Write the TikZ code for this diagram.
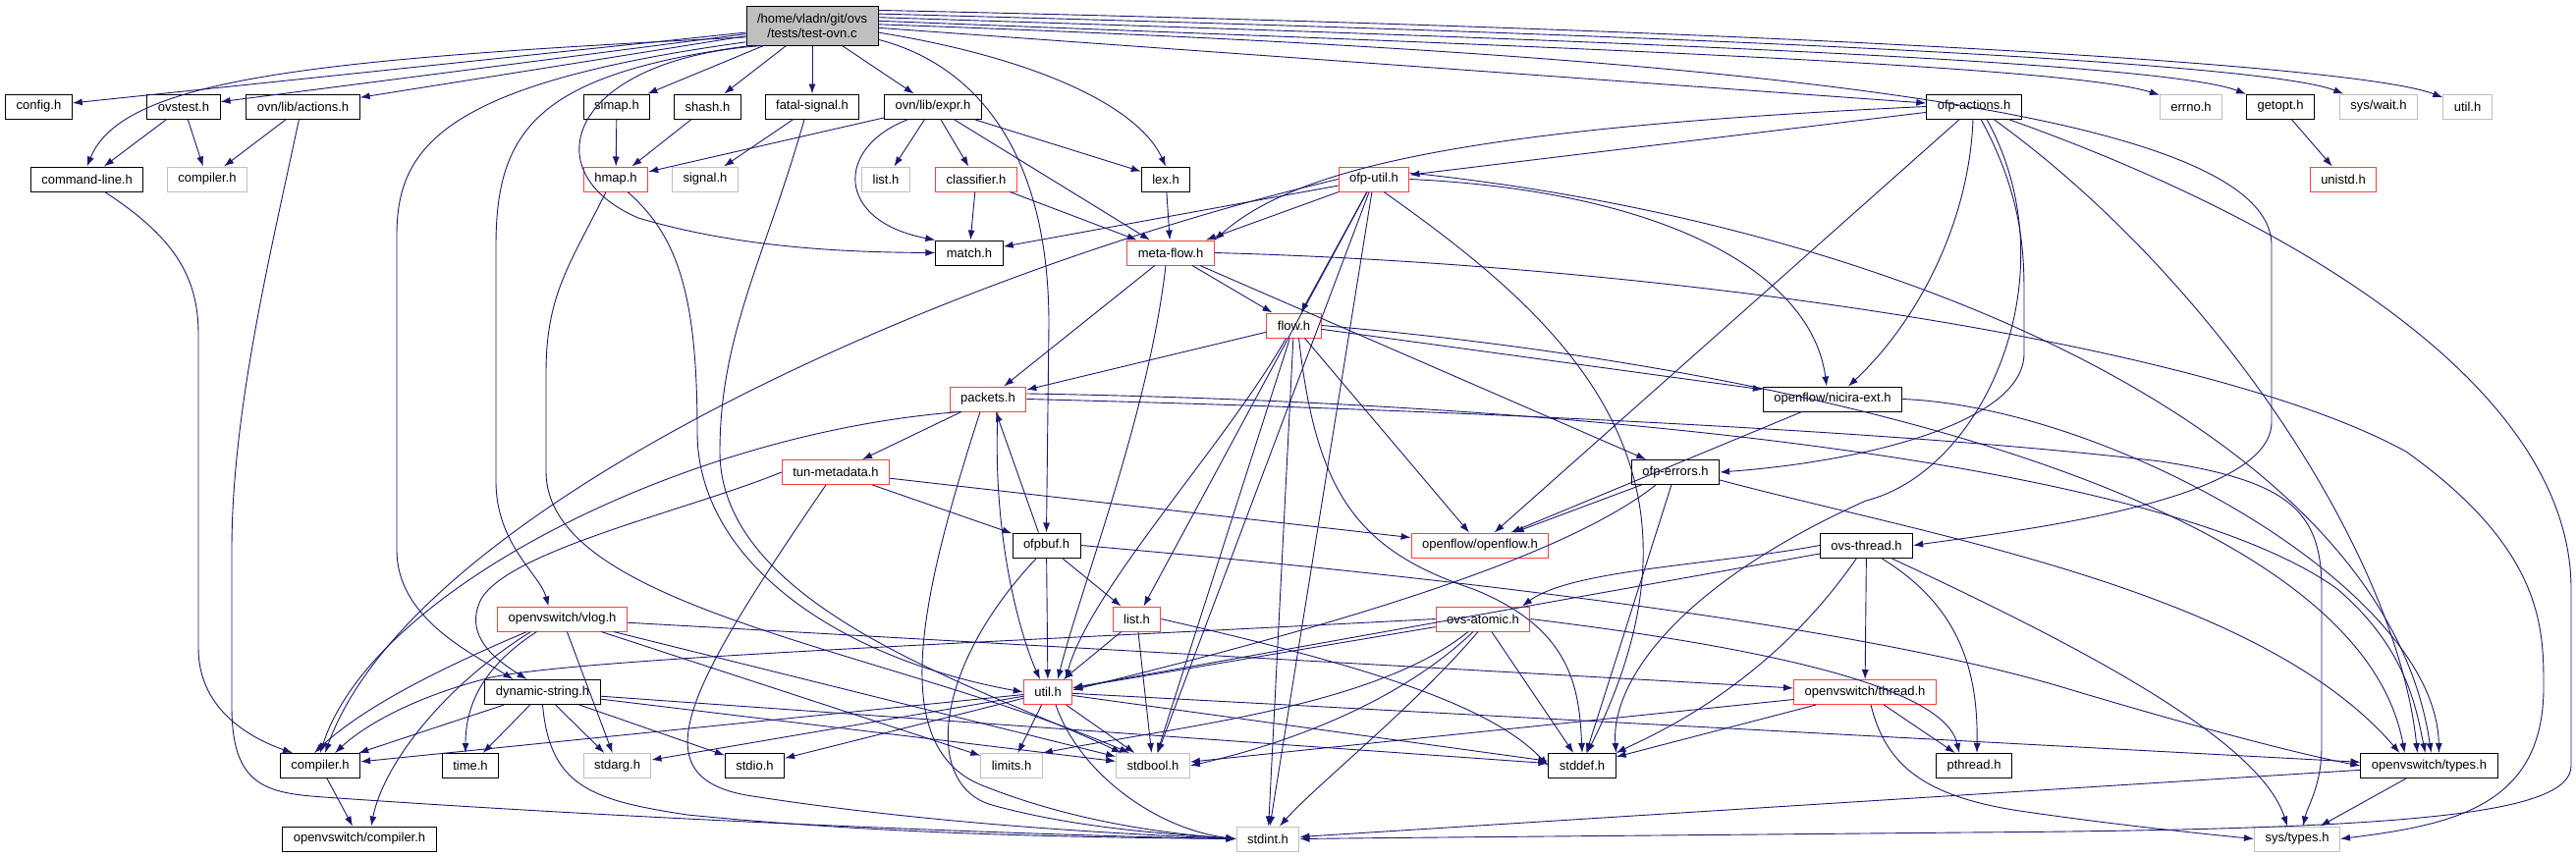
\documentclass[tikz,border=0pt]{standalone}
\usepackage{fontspec}
\setmainfont{Liberation Sans}
\usepackage{xcolor}
\usepackage{tikz}
\usetikzlibrary{arrows.meta}

\definecolor{depblue}{RGB}{25,25,112}
\definecolor{trunc}{RGB}{255,64,64}
\definecolor{sysgray}{RGB}{191,191,191}
\newcommand{\hdrfont}{\fontsize{13}{15}\selectfont}

\tikzset{
  hdr/.style={draw=black, fill=white, line width=1pt, minimum height=25pt,
    inner xsep=11pt, inner ysep=0pt, font=\hdrfont},
  hdrtrunc/.style={hdr, draw=trunc},
  hdrsys/.style={hdr, draw=sysgray},
  hdrroot/.style={hdr, fill=sysgray, minimum height=40pt, align=center},
  dep/.style={draw=depblue, line width=0.9pt, -{Latex[length=10pt,width=7pt]}}
}

\begin{document}
\begin{tikzpicture}[x=1pt, y=-1pt]
  \useasboundingbox (0,0) rectangle (2623,873);
  % the file itself
  \node[hdrroot] (main) at (827,26) {/home/vladn/git/ovs\\/tests/test-ovn.c};
  % rank 1
  \node[hdr] (config) at (39.5,108.5) {config.h};
  \node[hdr] (ovstest) at (187,108.5) {ovstest.h};
  \node[hdr] (actions) at (308.5,108.5) {ovn/lib/actions.h};
  \node[hdr] (simap) at (628,108.5) {simap.h};
  \node[hdr] (shash) at (720.5,108.5) {shash.h};
  \node[hdr] (fatalsig) at (827,108.5) {fatal-signal.h};
  \node[hdr] (expr) at (950,108.5) {ovn/lib/expr.h};
  \node[hdr] (ofpactions) at (2010,108.5) {ofp-actions.h};
  \node[hdrsys] (errno) at (2231,108.5) {errno.h};
  \node[hdr] (getopt) at (2322,108.5) {getopt.h};
  \node[hdrsys] (syswait) at (2422,108.5) {sys/wait.h};
  \node[hdrsys] (utilsys) at (2512.5,108.5) {util.h};
  % rank 2
  \node[hdr] (cmdline) at (88.6,182.5) {command-line.h};
  \node[hdrsys] (compilergray) at (211,182.5) {compiler.h};
  \node[hdrtrunc] (hmap) at (627,182.5) {hmap.h};
  \node[hdrsys] (signal) at (718,182.5) {signal.h};
  \node[hdrsys] (listgray) at (902,182.5) {list.h};
  \node[hdrtrunc] (classifier) at (994,182.5) {classifier.h};
  \node[hdr] (lex) at (1187,182.5) {lex.h};
  \node[hdrtrunc] (ofputil) at (1399,182.5) {ofp-util.h};
  \node[hdrtrunc] (unistd) at (2386,182.5) {unistd.h};
  % rank 3 .. 9
  \node[hdr] (match) at (987,257.5) {match.h};
  \node[hdrtrunc] (metaflow) at (1192,257.5) {meta-flow.h};
  \node[hdrtrunc] (flow) at (1317.5,331.5) {flow.h};
  \node[hdrtrunc] (packets) at (1006,406.5) {packets.h};
  \node[hdr] (nicira) at (1866,406.5) {openflow/nicira-ext.h};
  \node[hdrtrunc] (tunmeta) at (851,481) {tun-metadata.h};
  \node[hdr] (ofperrors) at (1706,481) {ofp-errors.h};
  \node[hdr] (ofpbuf) at (1065.5,555.5) {ofpbuf.h};
  \node[hdrtrunc] (openflow) at (1507,555.5) {openflow/openflow.h};
  \node[hdr] (ovsthread) at (1900.5,555.5) {ovs-thread.h};
  \node[hdrtrunc] (vlog) at (572.5,630.5) {openvswitch/vlog.h};
  \node[hdrtrunc] (listred) at (1157.5,630.5) {list.h};
  \node[hdrtrunc] (atomic) at (1510,630.5) {ovs-atomic.h};
  \node[hdr] (dynstr) at (552.5,705) {dynamic-string.h};
  \node[hdrtrunc] (util) at (1067,705) {util.h};
  \node[hdrtrunc] (thread) at (1899,705) {openvswitch/thread.h};
  % system headers row
  \node[hdr] (compiler) at (326,780) {compiler.h};
  \node[hdr] (time) at (479,780) {time.h};
  \node[hdrsys] (stdarg) at (628.5,780) {stdarg.h};
  \node[hdr] (stdio) at (768.5,780) {stdio.h};
  \node[hdrsys] (limits) at (1030,780) {limits.h};
  \node[hdrsys] (stdbool) at (1174,780) {stdbool.h};
  \node[hdr] (stddef) at (1611,780) {stddef.h};
  \node[hdr] (pthread) at (2010,780) {pthread.h};
  \node[hdr] (ovstypes) at (2473.5,780) {openvswitch/types.h};
  \node[hdr] (ovscompiler) at (366,854.5) {openvswitch/compiler.h};
  \node[hdrsys] (stdint) at (1291,854.5) {stdint.h};
  \node[hdrsys] (systypes) at (2339,854.5) {sys/types.h};

  % includes of test-ovn.c
  \draw[dep] (main) -- (config);
  \draw[dep] (main.190) .. controls (320,60) and (125,80) .. (cmdline.north);
  \draw[dep] (main) -- (ovstest);
  \draw[dep] (main) -- (actions);
  \draw[dep] (main) -- (simap);
  \draw[dep] (main) -- (shash);
  \draw[dep] (main) -- (fatalsig);
  \draw[dep] (main) -- (expr);
  \draw[dep] (main.194) .. controls (450,85) and (404,150) .. (404,240) -- (404,560) .. controls (404,630) and (480,665) .. ([xshift=-30pt]dynstr.north);
  \draw[dep] (main.198) .. controls (550,75) and (505,130) .. (505,250) -- (505,490) .. controls (505,555) and (550,585) .. ([xshift=-14pt]vlog.north);
  \draw[dep] (main.202) .. controls (580,60) and (540,175) .. (650,222) .. controls (760,255) and (880,257) .. (match.west);
  \draw[dep] (main.-6) .. controls (1060,60) and (1160,110) .. (lex.north);
  \draw[dep] (main.-12) .. controls (990,65) and (1068,150) .. (1068,330) -- (ofpbuf.north);
  \draw[dep] (main.-2) -- (ofpactions);
  \draw[dep] (main.4) .. controls (1500,45) and (2100,65) .. (errno.160);
  \draw[dep] (main.7) .. controls (1600,40) and (2200,62) .. (getopt.160);
  \draw[dep] (main.10) .. controls (1700,35) and (2300,62) .. (syswait.160);
  \draw[dep] (main.13) .. controls (1800,30) and (2400,65) .. (utilsys.160);
  \draw[dep] (main.1) .. controls (1750,55) and (2313,110) .. (2313,250) -- (2313,430) .. controls (2313,510) and (2060,540) .. (ovsthread.east);

  % ovstest.h, ovn/lib/actions.h, command-line.h
  \draw[dep] (ovstest) -- (cmdline);
  \draw[dep] (ovstest) -- (compilergray);
  \draw[dep] (actions) -- (compilergray);
  \draw[dep] ([xshift=-4pt]actions.south) .. controls (275,260) and (236,420) .. (236,560) -- (236,720) .. controls (236,800) and (270,808) .. (330,812) .. controls (700,838) and (1100,852) .. (stdint.west);
  \draw[dep] ([xshift=18pt]cmdline.south) .. controls (175,240) and (202,280) .. (202,340) -- (202,660) .. controls (202,720) and (250,750) .. ([xshift=-28pt]compiler.north);

  % hmap.h and fatal-signal.h
  \draw[dep] (simap) -- (hmap);
  \draw[dep] (shash) -- (hmap);
  \draw[dep] (expr) -- (hmap);
  \draw[dep] ([xshift=12pt]hmap.south) .. controls (690,240) and (710,300) .. (710,440) .. controls (710,570) and (850,670) .. (util.west);
  \draw[dep] ([xshift=-10pt]hmap.south) .. controls (580,270) and (556,300) .. (556,380) -- (556,480) .. controls (556,620) and (900,660) .. ([xshift=-24pt]stdbool.north);
  \draw[dep] (fatalsig) -- (signal);
  \draw[dep] ([xshift=-8pt]fatalsig.south) .. controls (780,260) and (733,340) .. (733,460) .. controls (733,620) and (1000,700) .. ([xshift=-32pt]stdbool.north);

  % ovn/lib/expr.h, classifier.h, lex.h, getopt.h
  \draw[dep] (expr) -- (listgray);
  \draw[dep] (expr) -- (classifier);
  \draw[dep] ([xshift=-25pt]expr.south) .. controls (850,150) and (850,225) .. (match.north west);
  \draw[dep] (expr) -- (metaflow);
  \draw[dep] (expr) -- (lex);
  \draw[dep] (classifier) -- (match);
  \draw[dep] (classifier) -- (metaflow);
  \draw[dep] (lex) -- (metaflow);
  \draw[dep] (getopt) -- (unistd);

  % ofp-actions.h
  \draw[dep] (ofpactions) -- (ofputil);
  \draw[dep] (ofpactions.west) .. controls (1500,130) and (1320,170) .. (metaflow.north east);
  \draw[dep] (ofpactions) -- (openflow);
  \draw[dep] ([xshift=-1pt]ofpactions.south) .. controls (2005,230) and (1950,330) .. ([xshift=16pt]nicira.north);
  \draw[dep] ([xshift=7pt]ofpactions.south) .. controls (2060,200) and (2061,260) .. (2061,300) -- (2061,360) .. controls (2061,430) and (1900,470) .. (ofperrors.east);
  \draw[dep] ([xshift=13pt]ofpactions.south) .. controls (2110,280) and (2020,480) .. (1900,510) .. controls (1700,600) and (1640,700) .. (stddef.north east);
  \draw[dep] ([xshift=20pt]ofpactions.south) .. controls (2250,280) and (2440,560) .. ([xshift=-12pt]ovstypes.north);
  \draw[dep] ([xshift=35pt]ofpactions.south) .. controls (2350,230) and (2618,400) .. (2618,600) -- (2618,780) .. controls (2618,830) and (2450,845) .. (2000,848) .. controls (1700,851) and (1450,853) .. (stdint.east);

  % ofp-util.h
  \draw[dep] (ofputil) -- (match);
  \draw[dep] (ofputil) -- (metaflow);
  \draw[dep] (ofputil) -- (flow);
  \draw[dep] (ofputil) -- (listred);
  \draw[dep] (ofputil) -- (stdbool);
  \draw[dep] (ofputil) -- (stdint);
  \draw[dep] (ofputil.west) .. controls (950,280) and (420,520) .. ([xshift=5pt]compiler.north);
  \draw[dep] (ofputil.east) .. controls (1700,195) and (1845,280) .. ([xshift=-6pt]nicira.north);
  \draw[dep] ([xshift=10pt]ofputil.south) .. controls (1600,330) and (1760,480) .. ([xshift=5pt]stddef.north);
  \draw[dep] (ofputil.10) .. controls (1950,230) and (2430,450) .. ([xshift=2pt]ovstypes.north);

  % meta-flow.h and flow.h
  \draw[dep] (metaflow) -- (flow);
  \draw[dep] (metaflow) -- (packets);
  \draw[dep] ([xshift=-5pt]metaflow.south) .. controls (1170,420) and (1100,600) .. ([xshift=10pt]util.north);
  \draw[dep] (metaflow) -- (ofperrors);
  \draw[dep] (metaflow.east) .. controls (1700,270) and (2250,350) .. (2450,460) .. controls (2590,560) and (2590,640) .. (2590,700) .. controls (2590,820) and (2500,840) .. (systypes.east);
  \draw[dep] (flow) -- (packets);
  \draw[dep] (flow) -- (nicira);
  \draw[dep] (flow) -- (openflow);
  \draw[dep] ([xshift=-8pt]flow.south) .. controls (1250,450) and (1110,600) .. ([xshift=18pt]util.north);
  \draw[dep] (flow) -- (stdbool);
  \draw[dep] (flow) -- (stdint);
  \draw[dep] ([xshift=5pt]flow.south) .. controls (1340,500) and (1380,560) .. (1500,600) .. controls (1600,640) and (1608,700) .. (stddef.north);
  \draw[dep] (flow.east) .. controls (1800,370) and (2400,500) .. ([xshift=-25pt]ovstypes.north);

  % packets.h, ofpbuf.h, tun-metadata.h
  \draw[dep] (packets) -- (tunmeta);
  \draw[dep] ([xshift=-28pt]packets.south) .. controls (700,440) and (380,600) .. (compiler.north);
  \draw[dep] ([xshift=10pt]packets.south) .. controls (1010,550) and (1040,650) .. ([xshift=-8pt]util.north);
  \draw[dep] ([xshift=-8pt]packets.south) .. controls (940,600) and (900,760) .. (1000,800) .. controls (1100,840) and (1200,850) .. (stdint.west);
  \draw[dep] (packets.east) .. controls (1500,418) and (1950,440) .. (2200,470) .. controls (2330,490) and (2364,520) .. (2364,600) -- (2364,760) .. controls (2364,800) and (2350,820) .. ([xshift=6pt]systypes.north);
  \draw[dep] (packets.8) .. controls (1600,410) and (2200,470) .. (2380,600) .. controls (2450,660) and (2460,720) .. ([xshift=-4pt]ovstypes.north);
  \draw[dep] ([xshift=-8pt]ofpbuf.north) -- ([xshift=8pt]packets.south);
  \draw[dep] (ofpbuf) -- (util);
  \draw[dep] (ofpbuf) -- (listred);
  \draw[dep] ([xshift=-10pt]ofpbuf.south) .. controls (950,680) and (940,800) .. (1010,820) .. controls (1100,845) and (1200,850) .. (stdint.west);
  \draw[dep] (ofpbuf.east) .. controls (1500,590) and (1900,640) .. (2100,700) .. controls (2250,745) and (2350,770) .. (ovstypes.west);
  \draw[dep] (tunmeta) -- (ofpbuf);
  \draw[dep] (tunmeta) -- (openflow);
  \draw[dep] (tunmeta.west) .. controls (700,520) and (520,560) .. (490,610) .. controls (470,650) and (510,675) .. ([xshift=-16pt]dynstr.north);
  \draw[dep] ([xshift=-10pt]tunmeta.south) .. controls (700,700) and (650,790) .. (760,810) .. controls (950,840) and (1150,850) .. (stdint.west);

  % list.h, util.h, dynamic-string.h
  \draw[dep] (listred) -- (util);
  \draw[dep] (listred) -- (stdbool);
  \draw[dep] (listred.east) .. controls (1400,680) and (1520,720) .. (stddef.west);
  \draw[dep] (util) -- (compiler);
  \draw[dep] (util) -- (stdarg);
  \draw[dep] (util) -- (stdio);
  \draw[dep] (util) -- (limits);
  \draw[dep] (util) -- (stdbool);
  \draw[dep] (util) -- (stddef);
  \draw[dep] ([xshift=8pt]util.south) .. controls (1100,790) and (1180,845) .. (stdint.west);
  \draw[dep] (util) -- (ovstypes);
  \draw[dep] (dynstr) -- (compiler);
  \draw[dep] (dynstr) -- (time);
  \draw[dep] (dynstr) -- (stdarg);
  \draw[dep] (dynstr) -- (stdio);
  \draw[dep] (dynstr) -- (stdbool);
  \draw[dep] (dynstr) -- (stddef);
  \draw[dep] (dynstr.south) .. controls (560,800) and (600,815) .. (700,830) .. controls (900,850) and (1100,853) .. (stdint.west);

  % openvswitch/vlog.h, compiler.h
  \draw[dep] ([xshift=-36pt]vlog.south) .. controls (450,680) and (370,720) .. ([xshift=-6pt]compiler.north);
  \draw[dep] ([xshift=-32pt]vlog.south) .. controls (450,700) and (390,780) .. ([xshift=12pt]ovscompiler.north);
  \draw[dep] ([xshift=-26pt]vlog.south) .. controls (490,680) and (474,720) .. ([xshift=-5pt]time.north);
  \draw[dep] (vlog) -- (stdarg);
  \draw[dep] (vlog) -- (limits);
  \draw[dep] (vlog) -- (stdbool);
  \draw[dep] (vlog) -- (thread);
  \draw[dep] (compiler) -- (ovscompiler);

  % ofp-errors.h, nicira-ext.h
  \draw[dep] (ofperrors) -- (openflow);
  \draw[dep] (ofperrors) -- (stddef);
  \draw[dep] ([xshift=-20pt]ofperrors.south) .. controls (1590,570) and (1350,640) .. (util.5);
  \draw[dep] (ofperrors.-10) .. controls (1960,545) and (2300,600) .. ([xshift=-30pt]ovstypes.north);
  \draw[dep] (nicira) -- (openflow);
  \draw[dep] (nicira.east) .. controls (2150,415) and (2480,600) .. ([xshift=10pt]ovstypes.north);

  % ovs-thread.h, ovs-atomic.h, openvswitch/thread.h
  \draw[dep] (ovsthread.west) .. controls (1750,575) and (1600,580) .. ([xshift=40pt]atomic.north);
  \draw[dep] (ovsthread) -- (util);
  \draw[dep] (ovsthread) -- (thread);
  \draw[dep] ([xshift=-10pt]ovsthread.south) .. controls (1800,700) and (1680,750) .. (stddef.north east);
  \draw[dep] ([xshift=15pt]ovsthread.south) .. controls (2000,620) and (2014,690) .. ([xshift=3pt]pthread.north);
  \draw[dep] ([xshift=25pt]ovsthread.south) .. controls (2100,650) and (2300,750) .. ([xshift=-10pt]systypes.north);
  \draw[dep] (atomic.west) .. controls (1000,655) and (600,670) .. (500,690) .. controls (420,710) and (370,740) .. ([xshift=15pt]compiler.north);
  \draw[dep] (atomic) -- (util);
  \draw[dep] ([xshift=-15pt]atomic.south) .. controls (1400,720) and (1200,740) .. (limits.north east);
  \draw[dep] ([xshift=-10pt]atomic.south) .. controls (1420,720) and (1300,760) .. (stdbool.east);
  \draw[dep] ([xshift=-5pt]atomic.south) .. controls (1440,720) and (1340,800) .. ([xshift=12pt]stdint.north);
  \draw[dep] (atomic) -- (stddef);
  \draw[dep] (atomic.east) .. controls (1800,660) and (1980,700) .. ([xshift=-15pt]pthread.north);
  \draw[dep] (thread) -- (pthread);
  \draw[dep] (thread) -- (stddef);
  \draw[dep] (thread) -- (stdbool);
  \draw[dep] ([xshift=6pt]thread.south) .. controls (1920,780) and (1960,810) .. (2050,825) .. controls (2150,840) and (2250,850) .. (systypes.west);

  % openvswitch/types.h
  \draw[dep] (ovstypes) -- (systypes);
  \draw[dep] (ovstypes) -- (stdint);
\end{tikzpicture}
\end{document}
